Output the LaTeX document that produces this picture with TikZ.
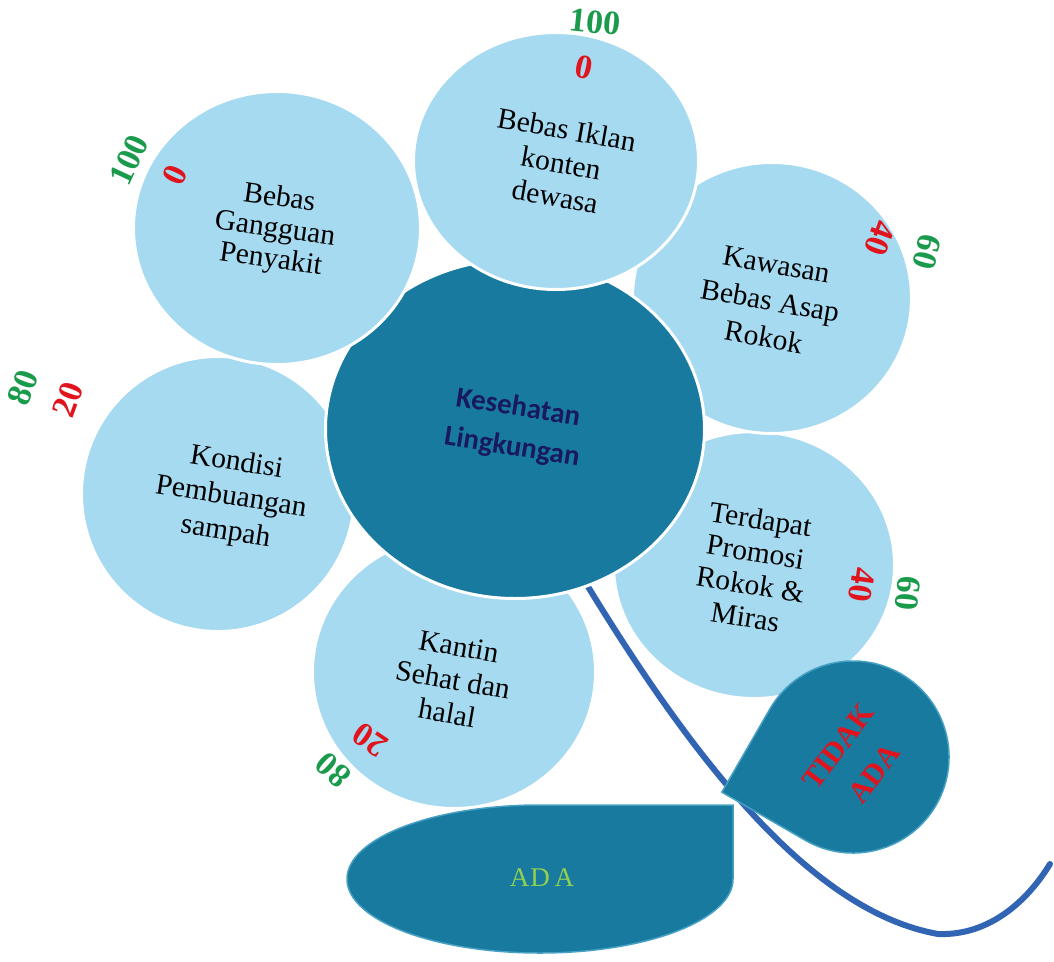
\documentclass[tikz,border=0pt]{standalone}
\usepackage{fontspec}
\setmainfont{Liberation Serif}
\newfontfamily\calibfont{Carlito}
\usetikzlibrary{shapes.geometric}
\definecolor{petalblue}{RGB}{165,218,240}
\definecolor{coreteal}{RGB}{23,122,158}
\definecolor{leafedge}{RGB}{70,160,195}
\definecolor{stemblue}{RGB}{50,100,180}
\definecolor{numgreen}{RGB}{25,155,75}
\definecolor{numred}{RGB}{225,20,30}
\definecolor{corenavy}{RGB}{25,25,95}
\definecolor{adagreen}{RGB}{146,208,80}
\begin{document}
\begin{tikzpicture}[x=1pt,y=-1pt,
  petal/.style={ellipse, fill=petalblue, draw=white, line width=3pt, inner sep=0pt},
  core/.style={ellipse, fill=coreteal, draw=white, line width=3pt, inner sep=0pt},
  ptext/.style={align=center, text=black, inner sep=0pt, font=\fontsize{29.5}{#1}\selectfont},
  num/.style={inner sep=0pt, font=\fontsize{34}{34}\selectfont\bfseries},
  grn/.style={num, text=numgreen},
  rd/.style={num, text=numred},
  leaf/.style={fill=coreteal, draw=leafedge, line width=1.5pt},
  stemline/.style={draw=stemblue, line width=6pt, line cap=round}
]
\useasboundingbox (0,0) rectangle (1054,961);
\fill[white] (0,0) rectangle (1054,961);

% stem
\coordinate (stemtop) at (587,585);
\coordinate (stembend) at (938,934);
\coordinate (stemend) at (1050,864);
\draw[stemline] (stemtop) .. controls (700,770) and (815,912) .. (stembend)
  .. controls (990,936) and (1028,900) .. (stemend);

% petals (back to front)
\node[petal, minimum width=273pt, minimum height=275pt] (kondisi) at (218,494) {};
\node[petal, minimum width=283pt, minimum height=273pt] (kantin) at (454,672) {};
\node[petal, minimum width=281pt, minimum height=267pt] (terdapat) at (754,565) {};
\node[petal, minimum width=279pt, minimum height=271pt] (kawasan) at (772,298) {};
\node[core, minimum width=379pt, minimum height=339pt] (core) at (515,429) {};
\node[petal, minimum width=287pt, minimum height=273pt] (gangguan) at (277,228) {};
\node[petal, minimum width=285pt, minimum height=257pt] (iklan) at (556,161) {};

% leaves
\path[leaf] (733,805) -- (733,879) arc[start angle=0,end angle=270,x radius=193,y radius=74] -- cycle;
\begin{scope}[shift={(853,757)}, rotate=150]
  \path[leaf] (96,-96) -- (96,0) arc[start angle=0,end angle=270,radius=96] -- cycle;
\end{scope}

% texts
\node[align=center, inner sep=0pt, text=corenavy, rotate=-9,
  font=\calibfont\bfseries\fontsize{29}{40}\selectfont] (tcore) at (515,428) {Kesehatan\\Lingkungan};
\node[ptext=31, rotate=-8] (tgangguan) at (275,230) {Bebas\\Gangguan\\Penyakit};
\node[ptext=34, rotate=-10] (tiklan) at (561,163) {Bebas Iklan\\konten\\dewasa};
\node[ptext=37, rotate=-10] (tkawasan) at (770,301) {Kawasan\\Bebas Asap\\Rokok};
\node[ptext=35, rotate=-9] (tkondisi) at (231,498) {Kondisi\\Pembuangan\\sampah};
\node[ptext=34, rotate=-10] (tkantin) at (453,680) {Kantin\\Sehat dan\\halal};
\node[ptext=33, rotate=-9] (tterdapat) at (753,568) {Terdapat\\Promosi\\Rokok \&\\Miras};

\node[inner sep=0pt, text=adagreen, font=\fontsize{27}{27}\selectfont] (tada) at (542,878) {A\kern1pt D\kern5pt A};
\node[align=center, inner sep=0pt, text=numred, rotate=53,
  font=\fontsize{30}{45}\selectfont\bfseries] (ttidak) at (856,760) {TIDAK\\ADA};

% numbers
\node[grn, rotate=-6] (n1) at (595,22) {100};
\node[rd, rotate=-12] (n2) at (584,67) {0};
\node[grn, rotate=65] (n3) at (129,160) {100};
\node[rd, rotate=65] (n4) at (175,175) {0};
\node[grn, rotate=70] (n5) at (23,388) {80};
\node[rd, rotate=70] (n6) at (68,400) {20};
\node[rd, rotate=-110] (n7) at (880,238) {40};
\node[grn, rotate=-105] (n8) at (927,252) {60};
\node[rd, rotate=-98] (n9) at (862,585) {40};
\node[grn, rotate=-95] (n10) at (908,593) {60};
\node[rd, rotate=146] (n11) at (370,740) {20};
\node[grn, rotate=138] (n12) at (333,770) {80};
\end{tikzpicture}
\end{document}
